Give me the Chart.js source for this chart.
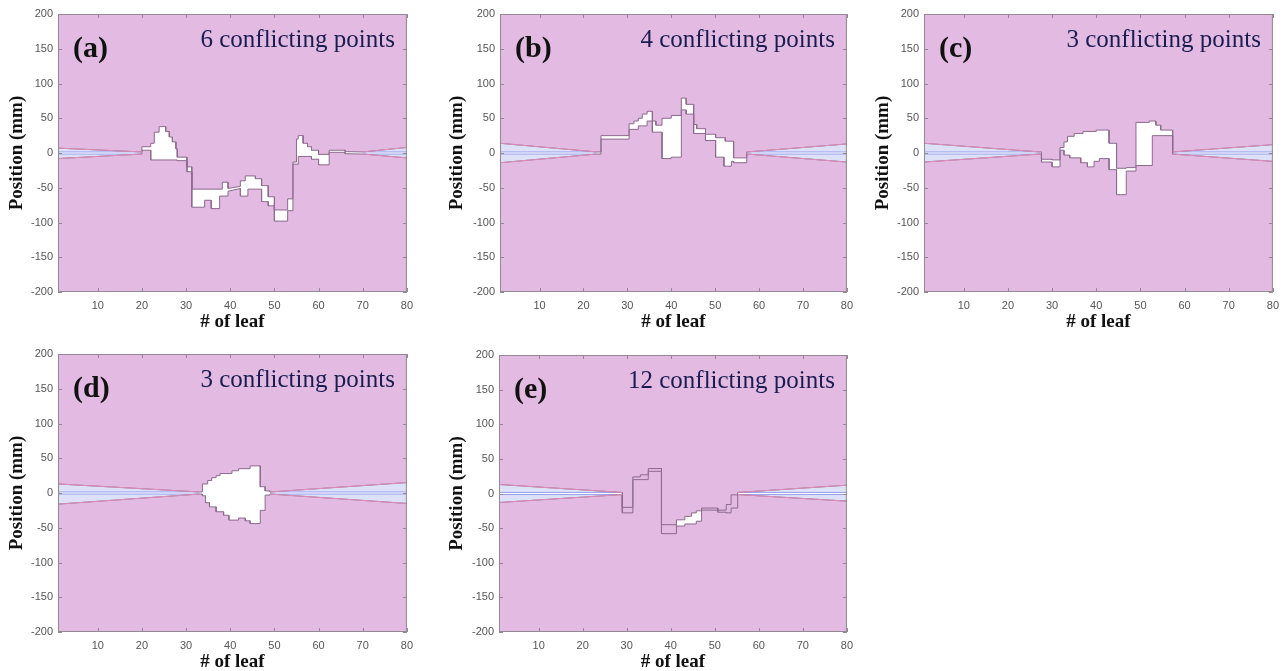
<!DOCTYPE html>
<html>
<head>
<meta charset="utf-8">
<script src="https://cdn.jsdelivr.net/npm/chart.js@4.4.0/dist/chart.umd.min.js"></script>
<style>
body { margin: 0; background: #fff; width: 1288px; height: 671px; overflow: hidden; position: relative; }
canvas { position: absolute; }
</style>
</head>
<body>
<canvas id="pa" width="420" height="334" style="left:0px;top:0px"></canvas>
<canvas id="pb" width="420" height="334" style="left:440px;top:0px"></canvas>
<canvas id="pc" width="420" height="334" style="left:866px;top:0px"></canvas>
<canvas id="pd" width="420" height="334" style="left:0px;top:340px"></canvas>
<canvas id="pe" width="420" height="334" style="left:440px;top:340px"></canvas>
<script>
// axis ticks
var xTicks = [10, 20, 30, 40, 50, 60, 70, 80];
var yTicks = [-200, -150, -100, -50, 0, 50, 100, 150, 200];

var panelTags = ['(a)', '(b)', '(c)', '(d)', '(e)'];
var conflicts = [6, 4, 3, 3, 12];

// leaf bank edges as [leaf, position mm]; a repeated leaf gives the vertical step
// first two and last two points are the tapered ends
var upperA = [[1,7],[20,1.5],[20,9],[22,9],[22,14],[22.8,14],[22.8,30],[23.9,30],[23.9,38],[25.4,38],[25.4,31],[26.2,31],[26.2,23],[26.9,23],[26.9,16],[27.7,16],[27.7,6],[28,6],[28,-6],[30.2,-6],[30.2,-20],[31.3,-20],[31.3,-52],[38.2,-52],[38.2,-42],[39.5,-42],[39.5,-51],[42.3,-48],[42.3,-40],[43.4,-40],[43.4,-33],[45.7,-33],[45.7,-37],[47.1,-37],[47.1,-47],[48.6,-47],[48.6,-63],[50,-63],[50,-82],[53,-82],[53,-66],[54.2,-66],[54.2,-13],[55,-13],[55,20],[55.4,20],[55.4,25],[56.5,25],[56.5,14],[57.5,14],[57.5,9],[58.4,9],[58.4,4],[60,4],[60,-2],[62.4,-2],[62.4,4],[66,4],[66,2],[70,1.5],[80,8]];
var lowerA = [[1,-8],[20,-1.5],[20,4],[22,4],[22,-10],[28,-10],[28,-11],[30.2,-11],[30.2,-27],[31.3,-27],[31.3,-78],[34.2,-78],[34.2,-68],[35.7,-68],[35.7,-80],[37.6,-80],[37.6,-62],[39.5,-62],[39.5,-55],[42.3,-51],[42.3,-62],[44,-62],[44,-52],[47.1,-52],[47.1,-70],[48.6,-70],[48.6,-76],[50,-76],[50,-98],[53,-98],[53,-83],[54.2,-83],[54.2,-16],[55.4,-16],[55.4,-5],[58.4,-5],[58.4,-9],[60,-9],[60,-17],[62.4,-17],[62.4,1],[66,1],[66,-1],[70,-1.5],[80,-7]];
var wedgeA = [20, 70];

var upperB = [[1,14],[23,1.5],[24,1.5],[24,25],[30.4,25],[30.4,42],[31.5,42],[31.5,46],[32.5,46],[32.5,50],[33.4,50],[33.4,56],[34.5,56],[34.5,60],[35.7,60],[35.7,46],[36.5,46],[36.5,40],[37.9,40],[37.9,50],[40,50],[40,54],[42.3,54],[42.3,79],[43.4,79],[43.4,70],[45.1,70],[45.1,41],[45.8,41],[45.8,35],[47.8,35],[47.8,27],[50.1,27],[50.1,22],[52.3,22],[52.3,17],[54.2,17],[54.2,-7],[57.2,-7],[57.2,1.5],[80,13]];
var lowerB = [[1,-14],[23,-1.5],[24,-1.5],[24,20],[30.4,20],[30.4,34],[32.5,34],[32.5,39],[34.5,39],[34.5,46],[35.7,46],[35.7,30],[37.9,30],[37.9,-8],[40,-8],[40,-6],[42.3,-6],[42.3,62],[43.4,62],[43.4,56],[45.1,56],[45.1,28],[47.8,28],[47.8,18],[50.1,18],[50.1,-6],[52,-6],[52,-19],[53.7,-19],[53.7,-12],[54.2,-12],[54.2,-14],[57.2,-14],[57.2,-1.5],[80,-13]];
var wedgeB = [23, 57.2];

var upperC = [[1,14],[27.3,1.5],[27.6,1.5],[27.6,-9],[30,-9],[30,-10],[31.8,-10],[31.8,8],[32.7,8],[32.7,16],[33.5,16],[33.5,24],[35,24],[35,28],[37,28],[37,31],[40,31],[40,33],[42.9,33],[42.9,14],[44.6,14],[44.6,-22],[46.8,-22],[46.8,-21],[49,-21],[49,44],[52,44],[52,46],[53.5,46],[53.5,40],[54.6,40],[54.6,33],[57.3,33],[57.3,1.5],[80,12]];
var lowerC = [[1,-13],[27.3,-1.5],[27.6,-1.5],[27.6,-13],[30,-13],[30,-20],[31.8,-20],[31.8,4],[32.7,4],[32.7,-3],[34,-3],[34,-7],[36.5,-7],[36.5,-14],[38,-14],[38,-20],[39.5,-20],[39.5,-12],[40.7,-12],[40.7,-8],[42.9,-8],[42.9,-24],[44.6,-24],[44.6,-60],[46.8,-60],[46.8,-26],[49,-26],[49,-18],[52.7,-18],[52.7,25],[57.3,25],[57.3,-1.5],[80,-12]];
var wedgeC = [27.3, 57.3];

var upperD = [[1,13],[33,1.5],[33.7,1.5],[33.7,13],[34.9,13],[34.9,18],[35.8,18],[35.8,22],[36.8,22],[36.8,25],[37.7,25],[37.7,28],[40.4,28],[40.4,32],[41.9,32],[41.9,35],[44.5,35],[44.5,39],[46.8,39],[46.8,9],[47.9,9],[47.9,3],[49,3],[49,1.5],[80,15]];
var lowerD = [[1,-16],[33,-1.5],[33.7,-1.5],[33.7,-4],[34.4,-4],[34.4,-14],[35.3,-14],[35.3,-20],[36.8,-20],[36.8,-27],[38.5,-27],[38.5,-32],[39.7,-32],[39.7,-39],[41.9,-39],[41.9,-36],[43.4,-36],[43.4,-40],[44.5,-40],[44.5,-44],[46.8,-44],[46.8,-25],[47.9,-25],[47.9,-3],[49,-3],[49,-1.5],[80,-15]];
var wedgeD = [33, 49];

var upperE = [[1,13],[29,1.5],[29,-28],[31.4,-28],[31.4,20],[34.9,20],[34.9,32],[37.9,32],[37.9,-58],[41.3,-58],[41.3,-38],[43.2,-38],[43.2,-33],[44.7,-33],[44.7,-28],[45.8,-28],[45.8,-25],[47,-25],[47,-24],[50.7,-24],[50.7,-27],[52.6,-27],[52.6,-28],[53.7,-28],[53.7,-21],[55.2,-21],[55.2,1.5],[80,12]];
var lowerE = [[1,-13],[29,-1.5],[29,-20],[31.4,-20],[31.4,24],[33.1,24],[33.1,27],[34.9,27],[34.9,36],[37.9,36],[37.9,-45],[41.3,-45],[41.3,-47],[43.2,-47],[43.2,-44],[45.8,-44],[45.8,-40],[47,-40],[47,-21],[50.7,-21],[50.7,-24],[52.6,-24],[52.6,-16],[53.7,-16],[53.7,-2],[55.2,-2],[55.2,-1.5],[80,-11]];
var wedgeE = [29, 55.2];

// half width of the thin open gap inside the tapered ends
var innerGap = 1.5;

var pink = '#e3bae1';
var paleBlue = '#dce1f8';
var edgeColor = '#8c6b8e';
var wedgeEdge = '#de8fbb';
var blueEdge = '#98a0ec';

function pts(arr){
    return arr.map(function(p){ return {x: p[0], y: p[1]}; });
}

var framePlugin = {
    id: 'frame',
    afterDraw: function(chart){
        var ctx = chart.ctx;
        var a = chart.chartArea;
        var xs = chart.scales.x, ys = chart.scales.y;
        ctx.save();
        ctx.strokeStyle = '#938893';
        ctx.lineWidth = 1;
        ctx.strokeRect(a.left + 0.5, a.top + 0.5, a.right - a.left - 1, a.bottom - a.top - 1);
        ctx.beginPath();
        xTicks.forEach(function(v){
            var px = Math.round(xs.getPixelForValue(v)) + 0.5;
            ctx.moveTo(px, a.bottom); ctx.lineTo(px, a.bottom - 4);
            ctx.moveTo(px, a.top); ctx.lineTo(px, a.top + 4);
        });
        yTicks.forEach(function(v){
            var py = Math.round(ys.getPixelForValue(v)) + 0.5;
            ctx.moveTo(a.left, py); ctx.lineTo(a.left + 4, py);
            ctx.moveTo(a.right, py); ctx.lineTo(a.right - 4, py);
        });
        ctx.stroke();

        var i = chart.options.plugins.frame.index;
        ctx.fillStyle = '#111';
        ctx.textAlign = 'left';
        ctx.textBaseline = 'alphabetic';
        ctx.font = 'bold 30px "Liberation Serif"';
        ctx.fillText(panelTags[i], a.left + 15, a.top + 43);
        ctx.fillStyle = '#1a1d50';
        ctx.textAlign = 'right';
        ctx.font = '25px "Liberation Serif"';
        ctx.fillText(conflicts[i] + ' conflicting points', a.right - 12, a.top + 33);
        ctx.restore();
    }
};

function edgeLine(arr){
    return {data: pts(arr), fill: false, borderColor: wedgeEdge, borderWidth: 1, order: -1};
}

function drawPanel(id, i, upper, lower, wedge, box){
    var ctx = document.getElementById(id).getContext('2d');
    var g = innerGap;
    var datasets = [
        {data: pts(upper), fill: 'end', backgroundColor: pink, borderColor: edgeColor, borderWidth: 1, order: 0},
        {data: pts(lower), fill: 'start', backgroundColor: pink, borderColor: edgeColor, borderWidth: 1, order: 0},
        {data: pts([[1, g], [wedge[0], g]]), fill: 'end', backgroundColor: paleBlue, borderColor: blueEdge, borderWidth: 1, order: 1},
        {data: pts([[1, -g], [wedge[0], -g]]), fill: 'start', backgroundColor: paleBlue, borderColor: blueEdge, borderWidth: 1, order: 1},
        {data: pts([[wedge[1], g], [80, g]]), fill: 'end', backgroundColor: paleBlue, borderColor: blueEdge, borderWidth: 1, order: 1},
        {data: pts([[wedge[1], -g], [80, -g]]), fill: 'start', backgroundColor: paleBlue, borderColor: blueEdge, borderWidth: 1, order: 1},
        // lighter red edge along the tapered ends
        edgeLine(upper.slice(0, 2)), edgeLine(upper.slice(-2)),
        edgeLine(lower.slice(0, 2)), edgeLine(lower.slice(-2))
    ];
    return new Chart(ctx, {
        type: 'line',
        data: {datasets: datasets},
        options: {
            responsive: false,
            animation: false,
            events: [],
            layout: {padding: {top: box.pt, right: box.pr, left: 0, bottom: 0}},
            elements: {point: {radius: 0}, line: {tension: 0}},
            plugins: {
                legend: {display: false},
                tooltip: {enabled: false},
                filler: {drawTime: 'beforeDatasetsDraw'},
                frame: {index: i}
            },
            scales: {
                x: {
                    type: 'linear', min: 1, max: 80,
                    afterBuildTicks: function(s){ s.ticks = xTicks.map(function(v){ return {value: v}; }); },
                    afterFit: function(s){ s.height = box.xh; },
                    grid: {display: false, drawTicks: false},
                    border: {display: false},
                    ticks: {padding: 7, color: '#555', font: {family: 'Liberation Sans', size: 11}, maxRotation: 0},
                    title: {display: true, text: '# of leaf', color: '#111',
                        font: {family: 'Liberation Serif', weight: 'bold', size: 19}, padding: {top: 0, bottom: 1}}
                },
                y: {
                    type: 'linear', min: -200, max: 200,
                    afterBuildTicks: function(s){ s.ticks = yTicks.map(function(v){ return {value: v}; }); },
                    afterFit: function(s){ s.width = box.yw; },
                    grid: {display: false, drawTicks: false},
                    border: {display: false},
                    ticks: {padding: 5, color: '#555', font: {family: 'Liberation Sans', size: 11}},
                    title: {display: true, text: 'Position (mm)', color: '#111',
                        font: {family: 'Liberation Serif', weight: 'bold', size: 19}, padding: {top: 6, bottom: 0}}
                }
            }
        },
        plugins: [framePlugin]
    });
}

drawPanel('pa', 0, upperA, lowerA, wedgeA, {yw: 58, xh: 42, pt: 14, pr: 8});
drawPanel('pb', 1, upperB, lowerB, wedgeB, {yw: 60, xh: 42, pt: 14, pr: 8});
drawPanel('pc', 2, upperC, lowerC, wedgeC, {yw: 58, xh: 42, pt: 14, pr: 9});
drawPanel('pd', 3, upperD, lowerD, wedgeD, {yw: 58, xh: 42, pt: 14, pr: 8});
drawPanel('pe', 4, upperE, lowerE, wedgeE, {yw: 59, xh: 42, pt: 15, pr: 7});
</script>
</body>
</html>
